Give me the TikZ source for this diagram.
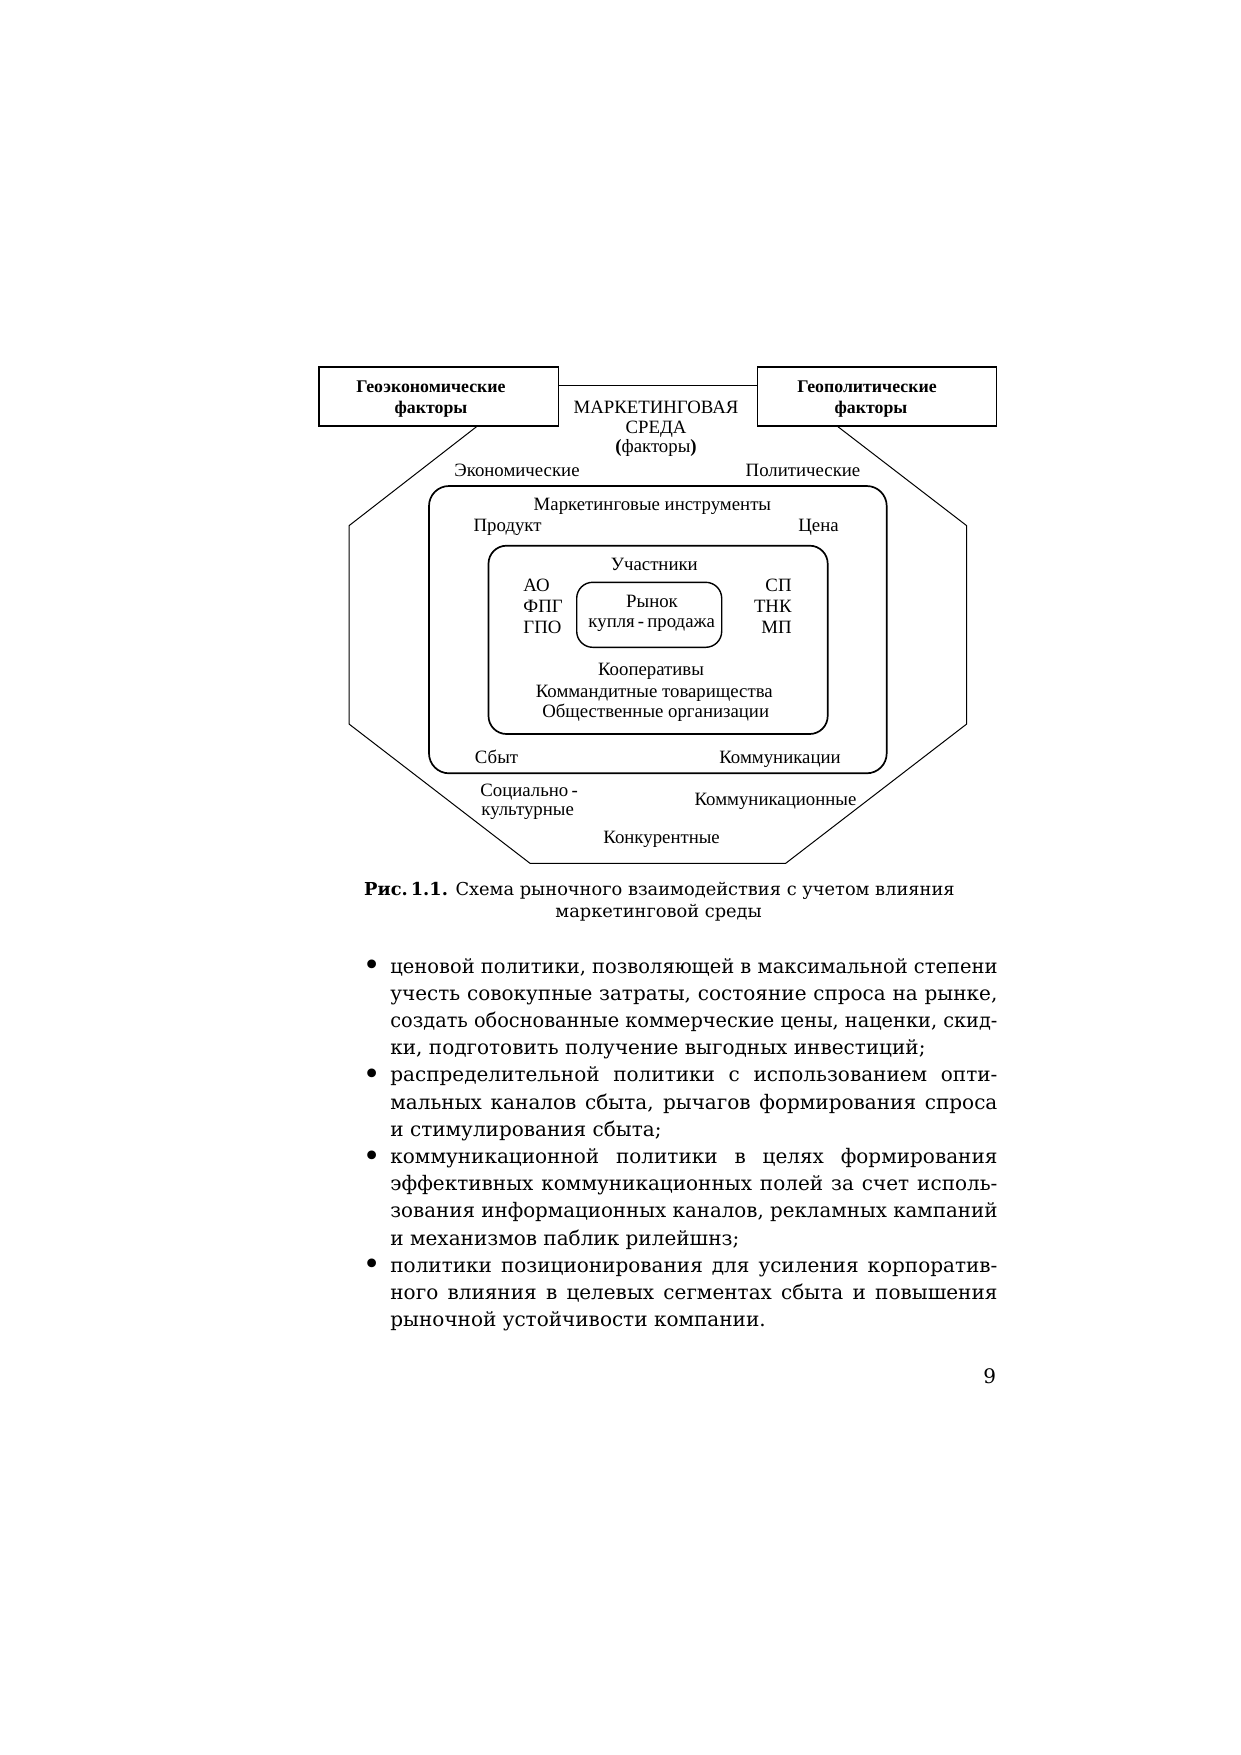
\documentclass[tikz,border=0pt]{standalone}
\usepackage{fontspec}
\usepackage{graphicx}
\newfontfamily\diagf{Liberation Serif}
\newfontfamily\bodyf{DejaVu Serif}
\usetikzlibrary{calc}
\tikzset{
  px/.style={x=0.5pt,y=-0.5pt},
  dtext/.style={font=\diagf\fontsize{9.4}{10}\selectfont, inner sep=0pt},
  btext/.style={font=\diagf\bfseries\fontsize{8.9}{10}\selectfont, inner sep=0pt, anchor=base},
  framebox/.style={draw, line width=0.6pt, inner sep=0pt, rectangle},
  roundbox/.style={draw, line width=0.85pt, inner sep=0pt, rectangle},
  octline/.style={line width=0.5pt},
  bodyline/.style={font=\bodyf\fontsize{10}{13.6}\selectfont, inner sep=0pt, anchor=base west},
  bulletmark/.style={font=\bodyf\fontsize{15}{15}\selectfont, inner sep=0pt, anchor=center},
  captext/.style={font=\bodyf\fontsize{8.9}{11}\selectfont, inner sep=0pt, anchor=base},
}
\newsavebox\jlinebox
\newcommand{\jline}[1]{\sbox\jlinebox{#1}%
  \ifdim\wd\jlinebox>303.5pt\relax
    \resizebox{303.5pt}{\height}{\usebox\jlinebox}%
  \else
    \makebox[303.5pt][s]{#1}%
  \fi}
\begin{document}
\begin{tikzpicture}[px]
\fill[white] (0,0) rectangle (1241,1755);
\useasboundingbox (0,0) rectangle (1241,1755);

% factor boxes
\node[framebox, minimum width=119.85pt, minimum height=29.5pt] (geo) at (438.85,396.5) {};
\node[framebox, minimum width=119.7pt, minimum height=29.5pt] (gpol) at (877,396.5) {};
\node[btext] (geo1) at (431,392) {Геоэкономические};
\node[btext] (geo2) at (431,413) {факторы};
\node[btext] (gpol1) at (867,392) {Геополитические};
\node[btext] (gpol2) at (871,413) {факторы};

% connecting line and octagon
\draw[octline] ([yshift=-9.5pt]geo.north east) -- ([yshift=-9.5pt]gpol.north west);
\coordinate (o1) at (349,525.7);
\coordinate (o2) at (349,724);
\coordinate (o3) at (530,863.3);
\coordinate (o4) at (785.7,863.3);
\coordinate (o5) at (966.7,724);
\coordinate (o6) at (966.7,525.7);
\draw[octline] ([xshift=18.9pt]geo.south) -- (o1) -- (o2) -- (o3) -- (o4) -- (o5) -- (o6) -- ([xshift=-19.6pt]gpol.south);

% environment title
\node[dtext, anchor=base] (env1) at (656,413) {МАРКЕТИНГОВАЯ};
\node[dtext, anchor=base] (env2) at (656,433) {СРЕДА};
\node[dtext, anchor=base] (env3) at (656,452) {\textbf{(}факторы\textbf{)}};

% outer factors
\node[dtext, anchor=base] (econ) at (517,476.5) {Экономические};
\node[dtext, anchor=base] (polit) at (803,476.5) {Политические};
\node[dtext, anchor=base west] (soc1) at (480,796) {Социально\,-};
\node[dtext, anchor=base west] (soc2) at (481,815) {культурные};
\node[dtext, anchor=base] (comm) at (775.5,805.5) {Коммуникационные};
\node[dtext, anchor=base] (konk) at (661.6,843) {Конкурентные};

% marketing instruments box
\node[roundbox, rounded corners=10pt, minimum width=228.85pt, minimum height=143.65pt] (instr) at (657.85,629.65) {};
\node[dtext, anchor=base] (instrt) at (652.4,510) {Маркетинговые инструменты};
\node[dtext, anchor=base] (prod) at (507.6,531.5) {Продукт};
\node[dtext, anchor=base] (price) at (818.5,531.5) {Цена};
\node[dtext, anchor=base] (sbyt) at (496.5,763.2) {Сбыт};
\node[dtext, anchor=base] (kommun) at (780,763.2) {Коммуникации};

% participants box
\node[roundbox, rounded corners=9pt, minimum width=169.6pt, minimum height=94.15pt] (part) at (658.1,639.85) {};
\node[dtext, anchor=base] (partt) at (654.3,570) {Участники};
\node[dtext, anchor=base west] (ao) at (523,591.6) {АО};
\node[dtext, anchor=base west] (fpg) at (523,612.3) {ФПГ};
\node[dtext, anchor=base west] (gpo) at (523,633.3) {ГПО};
\node[dtext, anchor=base east] (sp) at (792,591.6) {СП};
\node[dtext, anchor=base east] (tnk) at (792,612.3) {ТНК};
\node[dtext, anchor=base east] (mp) at (792,633.3) {МП};
\node[dtext, anchor=base] (koop) at (651,675.5) {Кооперативы};
\node[dtext, anchor=base] (kommand) at (654.3,697.2) {Коммандитные товарищества};
\node[dtext, anchor=base] (obsch) at (655.7,717.8) {Общественные организации};

% market box
\node[roundbox, line width=0.7pt, rounded corners=8pt, minimum width=72.5pt, minimum height=32.5pt] (market) at (649.2,614.8) {};
\node[dtext, anchor=base] (market1) at (652,607.2) {Рынок};
\node[dtext, anchor=base] (market2) at (651.7,627.2) {купля\,-\,продажа};

% caption
\node[captext] (cap1) at (659.4,895) {\textbf{Рис.\,1.1.} Схема рыночного взаимодействия с учетом влияния};
\node[captext] (cap2) at (658.6,917) {маркетинговой среды};

% body text
\node[bulletmark] (bu1) at (371.7,968) {•};
\node[bodyline] (l1) at (390,973) {\jline{ценовой политики, позволяющей в максимальной степени}};
\node[bodyline] (l2) at (390,1000.2) {\jline{учесть совокупные затраты, состояние спроса на рынке,}};
\node[bodyline] (l3) at (390,1027.4) {\jline{создать обоснованные коммерческие цены, наценки, скид-}};
\node[bodyline] (l4) at (390,1054.6) {ки, подготовить получение выгодных инвестиций;};
\node[bulletmark] (bu2) at (371.7,1076.8) {•};
\node[bodyline] (l5) at (390,1081.8) {\jline{распределительной политики с использованием опти-}};
\node[bodyline] (l6) at (390,1109) {\jline{мальных каналов сбыта, рычагов формирования спроса}};
\node[bodyline] (l7) at (390,1136.2) {и стимулирования сбыта;};
\node[bulletmark] (bu3) at (371.7,1158.4) {•};
\node[bodyline] (l8) at (390,1163.4) {\jline{коммуникационной политики в целях формирования}};
\node[bodyline] (l9) at (390,1190.6) {\jline{эффективных коммуникационных полей за счет исполь-}};
\node[bodyline] (l10) at (390,1217.8) {\jline{зования информационных каналов, рекламных кампаний}};
\node[bodyline] (l11) at (390,1245) {и механизмов паблик рилейшнз;};
\node[bulletmark] (bu4) at (371.7,1267.2) {•};
\node[bodyline] (l12) at (390,1272.2) {\jline{политики позиционирования для усиления корпоратив-}};
\node[bodyline] (l13) at (390,1299.4) {\jline{ного влияния в целевых сегментах сбыта и повышения}};
\node[bodyline] (l14) at (390,1326.6) {рыночной устойчивости компании.};

% page number
\node[bodyline, anchor=base east] (pnum) at (996.5,1383) {9};
\end{tikzpicture}
\end{document}
